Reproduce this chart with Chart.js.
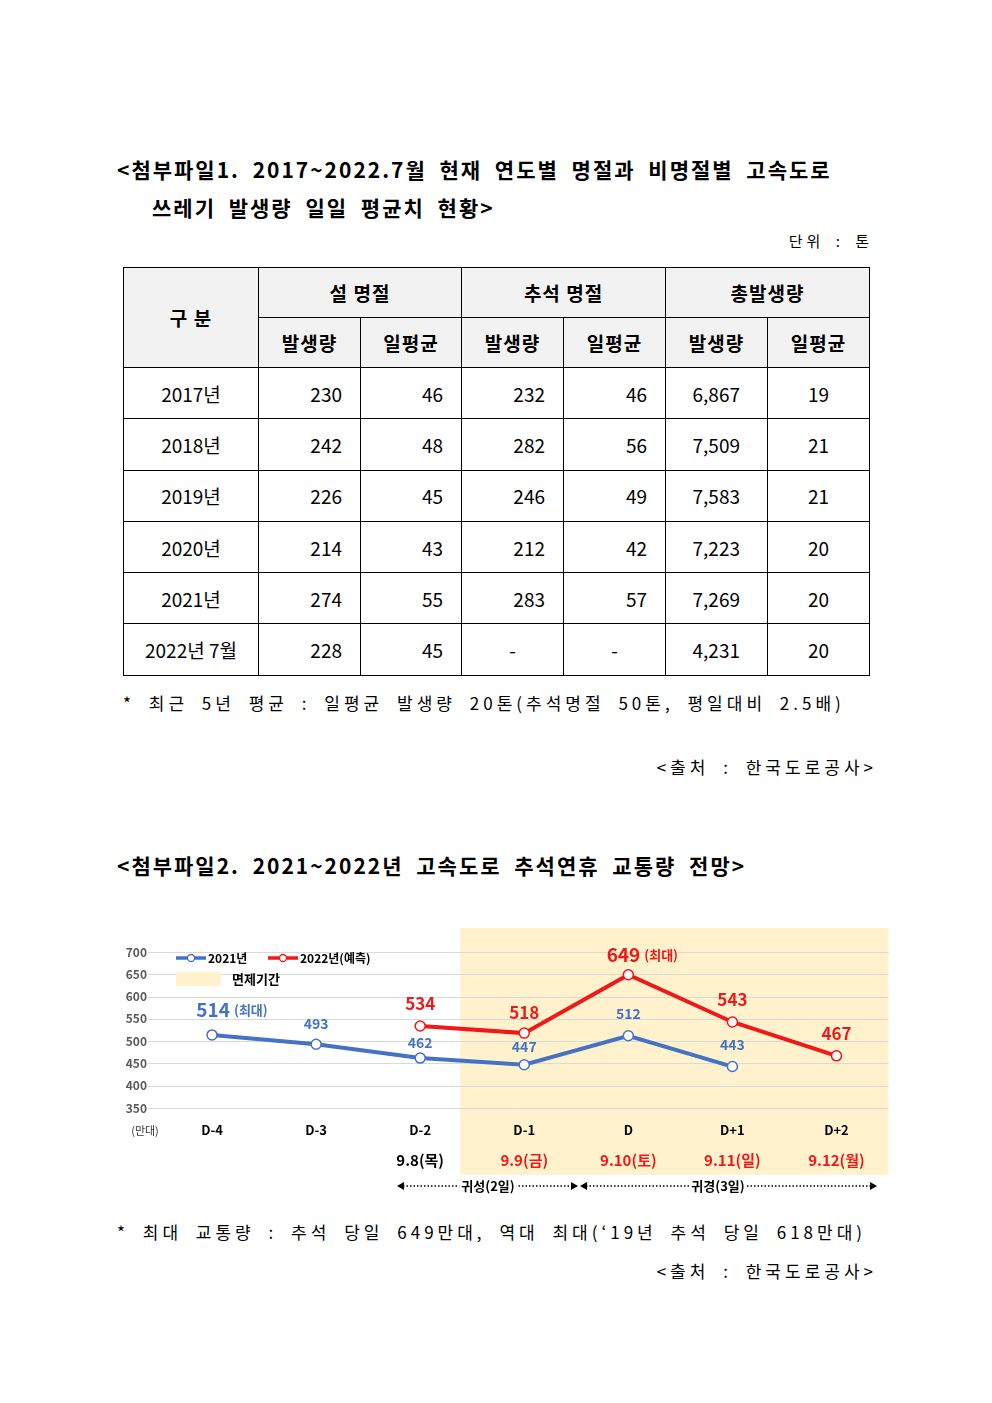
<!DOCTYPE html>
<html><head><meta charset="utf-8">
<script src="https://cdn.jsdelivr.net/npm/chart.js@4"></script>
<style>
body{margin:0;width:992px;height:1403px;background:#fff;position:relative;font-family:"Noto Sans CJK KR",sans-serif;color:#000}
.t{position:absolute;white-space:nowrap}
.h{font-weight:bold;font-size:21px;letter-spacing:2px;word-spacing:6px}
.s{font-size:17px;letter-spacing:4px;word-spacing:6px}
table{position:absolute;left:123px;top:267px;border-collapse:collapse;font-size:19px}
td{border:1px solid #000;height:51.3px;padding:0;box-sizing:border-box}
.hd td{height:50px}
td.r{text-align:right;padding-right:18px}
td.r2{text-align:right;padding-right:27px}
td.c{text-align:center}
.hd td{background:#f2f2f2;text-align:center;font-weight:bold;letter-spacing:1px}
</style></head><body>
<div class="t h" style="left:117px;top:154px">&lt;첨부파일1. 2017~2022.7월 현재 연도별 명절과 비명절별 고속도로</div>
<div class="t h" style="left:152px;top:192px">쓰레기 발생량 일일 평균치 현황&gt;</div>
<div class="t" style="right:119px;top:230px;font-size:15px;letter-spacing:4px;word-spacing:4px">단위 : 톤</div>
<table>
<colgroup><col style="width:135px"><col style="width:102px"><col style="width:101px"><col style="width:102px"><col style="width:102px"><col style="width:102px"><col style="width:102px"></colgroup>
<tr class="hd"><td rowspan="2">구 분</td><td colspan="2">설 명절</td><td colspan="2">추석 명절</td><td colspan="2">총발생량</td></tr>
<tr class="hd"><td>발생량</td><td>일평균</td><td>발생량</td><td>일평균</td><td>발생량</td><td>일평균</td></tr>
<tbody id="tb"></tbody>
</table>
<div class="t s" style="left:123px;top:690px">*  최근 5년 평균 : 일평균 발생량 20톤(추석명절 50톤, 평일대비 2.5배)</div>
<div class="t s" style="right:115px;top:754px">&lt;출처 : 한국도로공사&gt;</div>
<div class="t h" style="left:117px;top:850px">&lt;첨부파일2. 2021~2022년 고속도로 추석연휴 교통량 전망&gt;</div>
<div style="position:absolute;left:110px;top:925px;width:785px;height:275px"><canvas id="c"></canvas></div>
<div class="t s" style="left:117px;top:1219px">* 최대 교통량 : 추석 당일 649만대, 역대 최대(‘19년 추석 당일 618만대)</div>
<div class="t s" style="right:115px;top:1258px">&lt;출처 : 한국도로공사&gt;</div>
<script>
const tableYears=["2017년","2018년","2019년","2020년","2021년","2022년 7월"];
const seolAmount=["230","242","226","214","274","228"];
const seolDaily=["46","48","45","43","55","45"];
const chuseokAmount=["232","282","246","212","283","-"];
const chuseokDaily=["46","56","49","42","57","-"];
const totalAmount=["6,867","7,509","7,583","7,223","7,269","4,231"];
const totalDaily=["19","21","21","20","20","20"];
const tb=document.getElementById('tb');
tableYears.forEach((y,i)=>{
 const dash=chuseokAmount[i]==='-';
 tb.insertAdjacentHTML('beforeend',`<tr><td class="c">${y}</td><td class="r">${seolAmount[i]}</td><td class="r">${seolDaily[i]}</td><td class="${dash?'c':'r'}">${chuseokAmount[i]}</td><td class="${dash?'c':'r'}">${chuseokDaily[i]}</td><td class="r2">${totalAmount[i]}</td><td class="c">${totalDaily[i]}</td></tr>`);
});

const categories=["D-4","D-3","D-2","D-1","D","D+1","D+2"];
const dates=["","","9.8(목)","9.9(금)","9.10(토)","9.11(일)","9.12(월)"];
const traffic2021=[514,493,462,447,512,443,null];
const traffic2022=[null,null,534,518,649,543,467];
const yTicks=[350,400,450,500,550,600,650,700];
const BLUE='#4472C4',RED='#F01818',SHADE='#FFF2CC';
const F='"Noto Sans CJK KR",sans-serif';

const deco={id:'deco',
 beforeDraw(ch){
  const c=ch.ctx,x=ch.scales.x,y=ch.scales.y,a=ch.chartArea;
  const sx=(x.getPixelForValue(2)+x.getPixelForValue(3))/2-12;
  c.save();c.fillStyle=SHADE;c.fillRect(sx,3,a.right-sx,247);
  c.strokeStyle='#d9d9d9';c.lineWidth=1;
  yTicks.forEach(v=>{const py=Math.round(y.getPixelForValue(v))+0.5;c.beginPath();c.moveTo(a.left-12,py);c.lineTo(a.right,py);c.stroke();});
  c.restore();
 },
 afterDraw(ch){
  const c=ch.ctx,x=ch.scales.x,y=ch.scales.y,a=ch.chartArea;
  c.save();c.textAlign='center';c.textBaseline='middle';
  c.font='bold 15px '+F;
  dates.forEach((d,i)=>{if(!d)return;c.fillStyle=i===2?'#000':RED;c.fillText(d,x.getPixelForValue(i),235);});
  c.font='11px '+F;c.fillStyle='#333';c.fillText('(만대)',35,206);
  const lab=(ds,col,offs,big)=>{ds.forEach((v,i)=>{if(v==null)return;
    const px=x.getPixelForValue(i),py=y.getPixelForValue(v)+(offs[i]||-21);
    c.fillStyle=col;
    if(big[i]){c.font='bold 19px '+F;const w1=c.measureText(String(v)).width;c.font='bold 13px '+F;const w2=c.measureText('(최대)').width;
      const st=px-(w1+w2+4)/2+(i===0?20:14);c.textAlign='left';c.font='bold 19px '+F;c.fillText(String(v),st,py);
      c.font='bold 13px '+F;c.fillText('(최대)',st+w1+4,py);c.textAlign='center';}
    else{c.font=(col===RED?'bold 17px ':'bold 14px ')+F;c.fillText(String(v),px,py);}
  });};
  lab(traffic2021,BLUE,[-25,-21,-15,-18,-22,-22],[true,false,false,false,false,false]);
  lab(traffic2022,RED,[0,0,-22,-21,-20,-22,-22],[false,false,false,false,true,false,false]);
  const leg=(x0,col,t)=>{c.strokeStyle=col;c.lineWidth=3.5;c.beginPath();c.moveTo(x0,33);c.lineTo(x0+30,33);c.stroke();
   c.fillStyle='#fff';c.lineWidth=1.3;c.beginPath();c.arc(x0+15,33,3.5,0,7);c.fill();c.stroke();
   c.fillStyle='#000';c.font='bold 12px '+F;c.textAlign='left';c.fillText(t,x0+32,33);};
  leg(66,BLUE,'2021년');leg(158,RED,'2022년(예측)');
  c.fillStyle=SHADE;c.fillRect(66,47,45,14);c.fillStyle='#000';c.font='bold 13px '+F;c.fillText('면제기간',122,54);
  const ay=261;
  const arrow=(x1,x2)=>{c.strokeStyle='#000';c.lineWidth=1.5;c.setLineDash([1.5,2]);c.beginPath();c.moveTo(x1+6,ay);c.lineTo(x2-6,ay);c.stroke();c.setLineDash([]);
   c.fillStyle='#000';[[x1,1],[x2,-1]].forEach(([p,d])=>{c.beginPath();c.moveTo(p,ay);c.lineTo(p+7*d,ay-4);c.lineTo(p+7*d,ay+4);c.fill();});};
  arrow(287,468);arrow(470,767);
  c.textAlign='center';c.font='bold 13px '+F;
  [['귀성(2일)',378],['귀경(3일)',608]].forEach(([t,px])=>{const w=c.measureText(t).width;c.fillStyle='#fff';c.fillRect(px-w/2-2,ay-8,w+4,16);c.fillStyle='#000';c.fillText(t,px,ay);});
  c.restore();
 }};

new Chart(document.getElementById('c'),{type:'line',
 data:{labels:categories,datasets:[
  {data:traffic2021,borderColor:BLUE,borderWidth:4,pointRadius:5,pointBackgroundColor:'#fff',pointBorderColor:BLUE,pointBorderWidth:1.5},
  {data:traffic2022,borderColor:RED,borderWidth:4,pointRadius:5,pointBackgroundColor:'#fff',pointBorderColor:RED,pointBorderWidth:1.5}]},
 options:{responsive:true,maintainAspectRatio:false,animation:false,
  layout:{padding:{top:27,left:0,right:6,bottom:0}},
  plugins:{legend:{display:false},tooltip:{enabled:false}},
  scales:{
   x:{offset:true,grid:{display:false,drawTicks:false},border:{display:false},
      ticks:{padding:14,color:'#000',font:{family:F,weight:'bold',size:13}},
      afterFit(s){s.height=92;}},
   y:{min:350,max:700,grid:{display:false,drawTicks:false},border:{display:false},
      afterBuildTicks(s){s.ticks=yTicks.map(v=>({value:v}));},
      ticks:{padding:13,color:'#595959',font:{family:F,weight:'bold',size:12}},
      afterFit(s){s.width=50;}}}},
 plugins:[deco]});
</script></body></html>
